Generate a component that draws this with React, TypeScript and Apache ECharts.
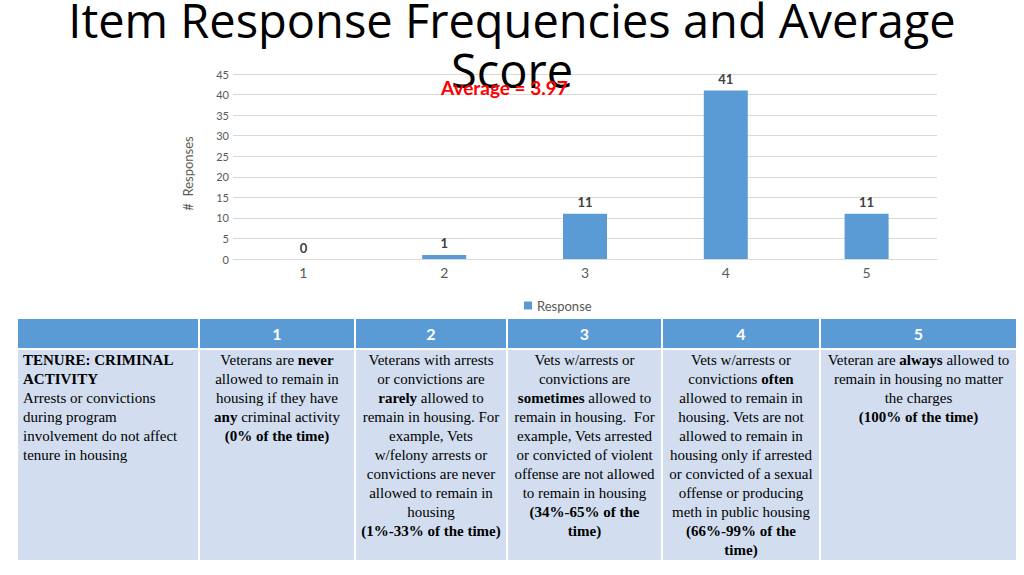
import React, { useEffect, useRef } from "react";
import * as echarts from "echarts";

const titleLines = ["Item Response Frequencies and Average", "Score"];
const categories = ["1", "2", "3", "4", "5"];
const responses = [0, 1, 11, 41, 11];
const seriesName = "Response";
const yAxisName = "#  Responses";
const averageText = "Average = 3.97";
const yMin = 0;
const yMax = 45;
const yInterval = 5;

const tableHeaders = ["", "1", "2", "3", "4", "5"];
// each cell: list of [text, bold] segments; "\n" forces a break
const tableCells: [string, boolean][][] = [
  [
    ["TENURE: CRIMINAL ACTIVITY", true],
    ["\nArrests or convictions during program involvement do not affect tenure in housing", false],
  ],
  [
    ["Veterans are ", false],
    ["never", true],
    [" allowed to remain in housing if they have ", false],
    ["any", true],
    [" criminal activity", false],
    ["\n(0% of the time)", true],
  ],
  [
    ["Veterans with arrests\nor convictions are ", false],
    ["rarely", true],
    [" allowed to remain in housing. For example, Vets w/felony arrests or convictions are never allowed to remain in housing", false],
    ["\n(1%-33% of the time)", true],
  ],
  [
    ["Vets w/arrests or convictions are ", false],
    ["sometimes", true],
    [" allowed to remain in housing.\u00a0 For example, Vets arrested or convicted of violent offense are not allowed to remain in housing", false],
    ["\n(34%-65% of the time)", true],
  ],
  [
    ["Vets w/arrests or convictions ", false],
    ["often", true],
    [" allowed to remain in housing. Vets are not allowed to remain in housing only if arrested or convicted of a sexual offense or producing meth in public housing", false],
    ["\n(66%-99% of the time)", true],
  ],
  [
    ["Veteran are ", false],
    ["always", true],
    [" allowed to remain in housing no matter the charges", false],
    ["\n(100% of the time)", true],
  ],
];
const columnWidths = [182, 156, 152, 155, 158, 197];
const columnPadding = [5, 6, 5, 6, 6, 6];

function Chart() {
  const ref = useRef<HTMLDivElement>(null);
  useEffect(() => {
    if (!ref.current) return;
    const chart = echarts.init(ref.current, undefined, { renderer: "svg" });
    chart.setOption({
      animation: false,
      backgroundColor: "#ffffff",
      title: {
        text: titleLines.join("\n"),
        left: "center",
        top: -10,
        textStyle: {
          fontFamily: "Open Sans",
          fontSize: 47,
          fontWeight: "normal",
          color: "#000000",
          lineHeight: 50,
        },
      },
      legend: {
        data: [seriesName],
        left: 519,
        top: 294,
        icon: "rect",
        itemWidth: 8,
        itemHeight: 8,
        itemGap: 5,
        textStyle: { fontFamily: "Lato", fontSize: 13, color: "#595959" },
      },
      grid: { left: 233, right: 87, top: 74, bottom: 316, containLabel: false },
      xAxis: {
        type: "category",
        data: categories,
        axisLine: { lineStyle: { color: "#D9D9D9" } },
        axisTick: { show: false },
        axisLabel: { fontFamily: "Lato", fontSize: 14, color: "#595959", margin: 6 },
      },
      yAxis: {
        type: "value",
        min: yMin,
        max: yMax,
        interval: yInterval,
        name: yAxisName,
        nameLocation: "middle",
        nameRotate: 90,
        nameGap: 39,
        nameTextStyle: { fontFamily: "Lato", fontSize: 13, color: "#595959", padding: [0, 14, 0, 0] },
        axisLine: { show: false },
        axisTick: { show: false },
        axisLabel: { fontFamily: "Lato", fontSize: 11, color: "#595959", margin: 4 },
        splitLine: { lineStyle: { color: "#D9D9D9" } },
      },
      graphic: [
        {
          type: "text",
          left: 441,
          top: 78,
          z: 100,
          style: {
            text: averageText,
            fill: "#FF0000",
            font: "bold 19px Lato",
          },
        },
      ],
      series: [
        {
          name: seriesName,
          type: "bar",
          data: responses,
          barWidth: 44,
          itemStyle: { color: "#5B9BD5" },
          label: {
            show: true,
            position: "top",
            distance: 5,
            fontFamily: "Lato",
            fontWeight: "bold",
            fontSize: 13,
            color: "#404040",
          },
        },
      ],
    });
    return () => chart.dispose();
  }, []);
  return <div ref={ref} style={{ position: "absolute", left: 0, top: 0, width: 1024, height: 575 }} />;
}

export default function App() {
  const cellBase: React.CSSProperties = {
    border: "2px solid #ffffff",
    background: "#D2DEEF",
    fontFamily: "'Liberation Serif', 'Times New Roman', serif",
    fontSize: 15,
    lineHeight: "19px",
    color: "#000000",
    verticalAlign: "top",
    whiteSpace: "pre-line",
  };
  return (
    <div style={{ position: "fixed", left: 0, top: 0, width: 1024, height: 575, background: "#ffffff", overflow: "hidden" }}>
      <Chart />
      <table
        style={{
          position: "absolute",
          left: 16,
          top: 317,
          width: 1002,
          borderCollapse: "collapse",
          tableLayout: "fixed",
        }}
      >
        <colgroup>
          {columnWidths.map((w, i) => (
            <col key={i} style={{ width: w }} />
          ))}
        </colgroup>
        <thead>
          <tr style={{ height: 31 }}>
            {tableHeaders.map((h, i) => (
              <th
                key={i}
                style={{
                  border: "2px solid #ffffff",
                  background: "#5B9BD5",
                  color: "#ffffff",
                  fontFamily: "Lato",
                  fontWeight: "bold",
                  fontSize: 16,
                  textAlign: "center",
                  padding: 0,
                }}
              >
                {h}
              </th>
            ))}
          </tr>
        </thead>
        <tbody>
          <tr style={{ height: 209 }}>
            {tableCells.map((segs, i) => (
              <td
                key={i}
                style={{
                  ...cellBase,
                  textAlign: i === 0 ? "left" : "center",
                  padding: `1px ${columnPadding[i]}px 0 ${columnPadding[i]}px`,
                }}
              >
                {segs.map(([t, b], j) => (b ? <b key={j}>{t}</b> : <span key={j}>{t}</span>))}
              </td>
            ))}
          </tr>
        </tbody>
      </table>
    </div>
  );
}
